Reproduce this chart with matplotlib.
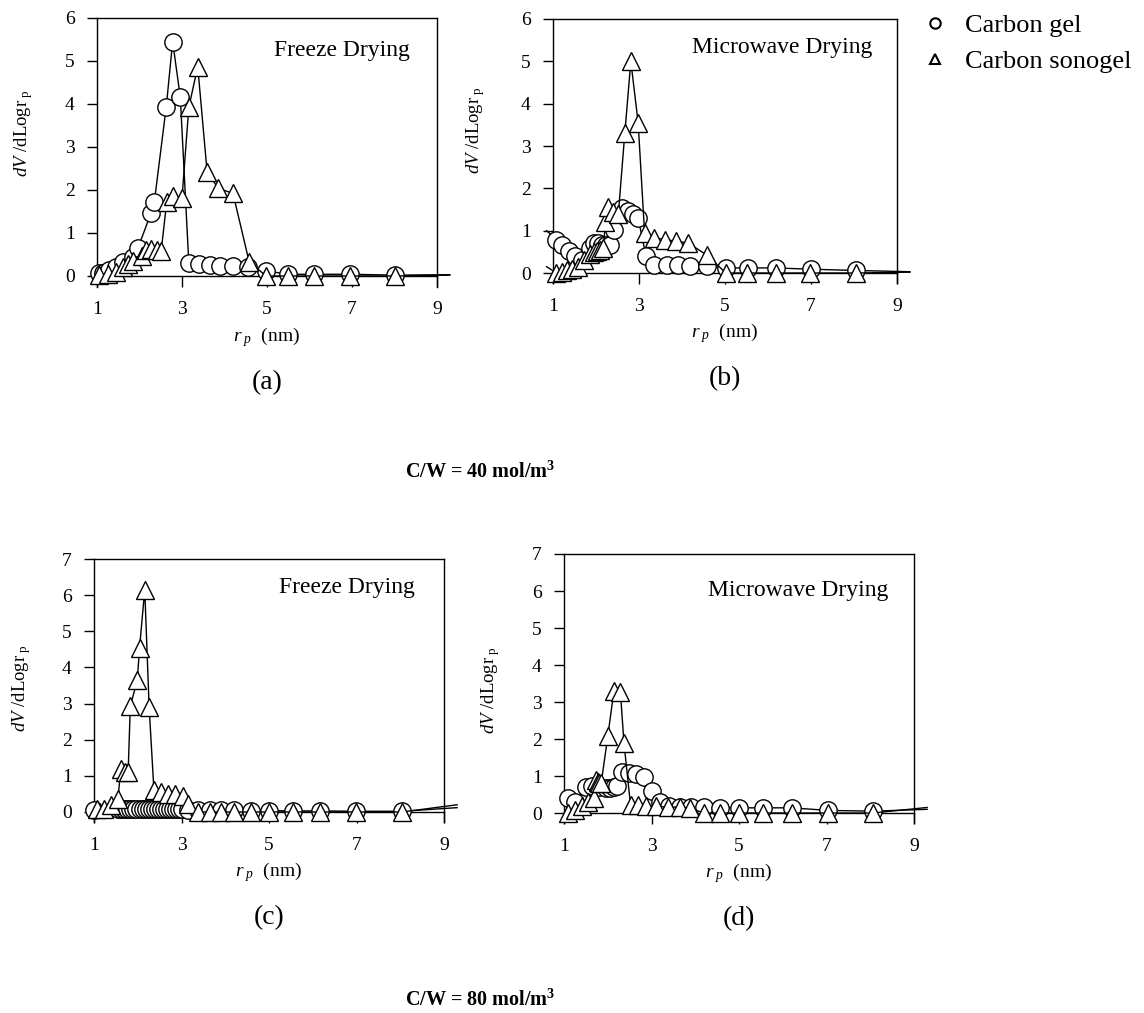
import matplotlib
matplotlib.use('Agg')
import matplotlib.pyplot as plt
from matplotlib.lines import Line2D

plt.rcParams['font.family'] = ['Liberation Serif', 'DejaVu Serif']
plt.rcParams['mathtext.fontset'] = 'custom'
plt.rcParams['mathtext.rm'] = 'Liberation Serif'
plt.rcParams['mathtext.it'] = 'Liberation Serif:italic'
plt.rcParams['mathtext.bf'] = 'Liberation Serif:bold'

# ---------------- data ----------------
xticks = [1, 3, 5, 7, 9]

# (a) C/W = 40, Freeze drying
a_gel_x = [1.05, 1.15, 1.29, 1.45, 1.6, 1.84, 1.96, 2.27, 2.35, 2.63, 2.78, 2.96, 3.16, 3.41, 3.65, 3.89, 4.2, 4.55, 4.98, 5.49, 6.11, 6.95, 8.02, 9.3]
a_gel_y = [0.07, 0.08, 0.14, 0.2, 0.33, 0.45, 0.64, 1.46, 1.73, 3.94, 5.45, 4.16, 0.31, 0.27, 0.25, 0.24, 0.24, 0.22, 0.12, 0.04, 0.04, 0.04, 0.02, 0.03]
a_son_x = [1.05, 1.25, 1.44, 1.6, 1.72, 1.84, 2.05, 2.16, 2.28, 2.4, 2.51, 2.64, 2.78, 3.0, 3.16, 3.37, 3.59, 3.85, 4.2, 4.58, 4.98, 5.49, 6.11, 6.95, 8.02, 9.3]
a_son_y = [0.02, 0.05, 0.1, 0.2, 0.28, 0.35, 0.47, 0.6, 0.62, 0.6, 0.57, 1.73, 1.86, 1.81, 3.92, 4.87, 2.43, 2.04, 1.92, 0.33, 0.0, 0.0, 0.0, 0.0, 0.0, 0.02]

# (b) C/W = 40, Microwave drying
b_gel_x = [0.85, 1.08, 1.22, 1.37, 1.52, 1.68, 1.85, 1.95, 2.05, 2.14, 2.23, 2.33, 2.43, 2.61, 2.74, 2.86, 2.98, 3.16, 3.36, 3.64, 3.91, 4.18, 4.57, 5.02, 5.53, 6.18, 6.99, 8.05, 9.3]
b_gel_y = [1.0, 0.79, 0.65, 0.52, 0.4, 0.3, 0.6, 0.7, 0.72, 0.67, 0.66, 0.66, 1.02, 1.54, 1.46, 1.4, 1.3, 0.41, 0.2, 0.18, 0.18, 0.16, 0.16, 0.12, 0.12, 0.12, 0.09, 0.06, 0.03]
b_son_x = [0.85, 1.08, 1.2, 1.32, 1.45, 1.58, 1.72, 1.85, 1.95, 2.03, 2.1, 2.17, 2.22, 2.27, 2.4, 2.52, 2.67, 2.81, 2.98, 3.13, 3.36, 3.6, 3.87, 4.14, 4.57, 5.02, 5.5, 6.18, 6.97, 8.05, 9.3]
b_son_y = [0.15, 0.0, 0.03, 0.07, 0.1, 0.15, 0.3, 0.45, 0.5, 0.52, 0.55, 0.58, 1.2, 1.55, 1.45, 1.4, 3.3, 5.0, 3.55, 0.94, 0.83, 0.79, 0.75, 0.71, 0.43, 0.0, 0.0, 0.0, 0.0, 0.0, 0.02]

# (c) C/W = 80, Freeze drying
c_gel_x = [1.0, 1.55, 1.62, 1.69, 1.76, 1.83, 1.9, 1.97, 2.04, 2.11, 2.18, 2.25, 2.32, 2.39, 2.46, 2.53, 2.6, 2.67, 2.74, 2.81, 2.88, 2.95, 3.02, 3.15, 3.38, 3.65, 3.9, 4.2, 4.58, 5.0, 5.56, 6.17, 6.99, 8.04, 9.3]
c_gel_y = [0.06, 0.08, 0.08, 0.09, 0.09, 0.09, 0.09, 0.09, 0.09, 0.09, 0.09, 0.09, 0.09, 0.09, 0.09, 0.09, 0.09, 0.08, 0.08, 0.08, 0.08, 0.07, 0.07, 0.06, 0.05, 0.05, 0.05, 0.05, 0.04, 0.04, 0.03, 0.03, 0.02, 0.02, 0.12]
c_son_x = [1.08, 1.24, 1.4, 1.55, 1.61, 1.7, 1.78, 1.83, 1.99, 2.04, 2.16, 2.26, 2.37, 2.54, 2.69, 2.85, 3.04, 3.15, 3.38, 3.65, 3.9, 4.2, 4.58, 5.0, 5.56, 6.17, 6.99, 8.04, 9.3]
c_son_y = [0.09, 0.09, 0.18, 0.37, 1.2, 1.12, 1.1, 2.93, 3.65, 4.53, 6.15, 2.9, 0.6, 0.55, 0.51, 0.51, 0.45, 0.23, 0.0, 0.0, 0.0, 0.0, 0.0, 0.0, 0.0, 0.0, 0.0, 0.0, 0.2]

# (d) C/W = 80, Microwave drying
d_gel_x = [1.08, 1.25, 1.5, 1.65, 1.8, 1.95, 2.05, 2.15, 2.22, 2.32, 2.48, 2.65, 2.82, 3.0, 3.2, 3.4, 3.65, 3.9, 4.2, 4.56, 5.0, 5.55, 6.2, 7.04, 8.07, 9.3]
d_gel_y = [0.4, 0.3, 0.7, 0.72, 0.7, 0.68, 0.68, 0.7, 0.72, 1.1, 1.08, 1.05, 0.98, 0.6, 0.3, 0.2, 0.17, 0.16, 0.16, 0.14, 0.14, 0.14, 0.14, 0.07, 0.05, 0.1]
d_son_x = [1.09, 1.24, 1.4, 1.55, 1.69, 1.72, 1.77, 1.81, 1.85, 2.0, 2.14, 2.29, 2.37, 2.52, 2.69, 2.88, 3.11, 3.38, 3.64, 3.89, 4.19, 4.56, 5.0, 5.55, 6.2, 7.03, 8.06, 9.3]
d_son_y = [0.0, 0.09, 0.18, 0.31, 0.4, 0.88, 0.85, 0.82, 0.8, 2.07, 3.29, 3.26, 1.9, 0.22, 0.22, 0.2, 0.18, 0.16, 0.16, 0.13, 0.0, 0.0, 0.0, 0.0, 0.0, 0.0, 0.0, 0.15]

series_names = ['Carbon gel', 'Carbon sonogel']
panel_titles = ['Freeze Drying', 'Microwave Drying', 'Freeze Drying', 'Microwave Drying']
panel_tags = ['(a)', '(b)', '(c)', '(d)']
group_titles = [r'C/W = 40 mol/m$^{\mathbf{3}}$', r'C/W = 80 mol/m$^{\mathbf{3}}$']

# ---------------- layout ----------------
W, H = 1144, 1013
fig = plt.figure(figsize=(W / 100, H / 100), dpi=100)

def px_axes(l, r, t, b):
    return fig.add_axes([l / W, 1 - b / H, (r - l) / W, (b - t) / H])

# (left, right, top, bottom, ymax, ymin, title_x, title_y, ylabel_x, ylabel_y)
specs = [
    (97, 437, 18, 287, 6, -0.256, 0.92, 0.88, 24, 133),
    (553, 897, 19, 283, 6, -0.236, 0.927, 0.893, 476, 130),
    (94, 444, 559, 822, 7, -0.277, 0.917, 0.89, 22, 688),
    (564, 914, 554, 823, 7, -0.27, 0.926, 0.866, 491, 690),
]
data = [
    (a_gel_x, a_gel_y, a_son_x, a_son_y),
    (b_gel_x, b_gel_y, b_son_x, b_son_y),
    (c_gel_x, c_gel_y, c_son_x, c_son_y),
    (d_gel_x, d_gel_y, d_son_x, d_son_y),
]

def marks(xs):
    return [i for i, v in enumerate(xs) if 0.95 <= v <= 8.6]

for k, (spec, dd) in enumerate(zip(specs, data)):
    l, r, t, b, ymax, ymin, tx, ty, ylx, yly = spec
    ax = px_axes(l, r, t, b)
    gx, gy, sx, sy = dd
    ax.plot(gx, gy, color='black', lw=1.0, marker='o', ms=12.5, mfc='white',
            mec='black', mew=1.0, markevery=marks(gx), clip_on=False, zorder=3)
    ax.plot(sx, sy, color='black', lw=1.0, marker='^', ms=13, mfc='white',
            mec='black', mew=1.0, markevery=marks(sx), clip_on=False, zorder=4)
    ax.set_xlim(1, 9)
    ax.set_ylim(ymin, ymax)
    ax.spines['bottom'].set_position(('data', 0))
    for s in ax.spines.values():
        s.set_linewidth(1.0)
    ax.set_xticks(xticks)
    ax.set_yticks(range(0, ymax + 1))
    ax.tick_params(axis='x', direction='out', length=8, width=1, pad=10, labelsize=14)
    ax.tick_params(axis='y', direction='out', length=7, width=1, pad=9, labelsize=14)
    ax.text(tx, ty, panel_titles[k], transform=ax.transAxes, ha='right', va='center', fontsize=17)
    fig.text(ylx / W, 1 - yly / H, r'$dV$ /dLogr$_{\mathrm{\ p}}$', rotation=90,
             ha='center', va='center', fontsize=13.5)
    cx = (l + r) / 2
    fig.text(cx / W, 1 - (b + 50) / H, r'$r_{\ p}$  (nm)', ha='center', va='center', fontsize=14)
    fig.text(cx / W, 1 - (b + 96) / H, panel_tags[k], ha='center', va='center', fontsize=20)

fig.text(480 / W, 1 - 472 / H, group_titles[0], ha='center', va='center', fontsize=14.5, fontweight='bold')
fig.text(480 / W, 1 - 1000 / H, group_titles[1], ha='center', va='center', fontsize=14.5, fontweight='bold')

handles = [
    Line2D([], [], ls='none', marker='o', ms=7.5, mfc='white', mec='black', mew=1.5),
    Line2D([], [], ls='none', marker='^', ms=7.5, mfc='white', mec='black', mew=1.5),
]
fig.legend(handles, series_names, loc='upper left', bbox_to_anchor=(922 / W, 1 - 14 / H),
           frameon=False, fontsize=19, handlelength=1.0, handletextpad=0.62,
           labelspacing=0.45, borderpad=0, borderaxespad=0)

fig.savefig('out.png', dpi=100)
